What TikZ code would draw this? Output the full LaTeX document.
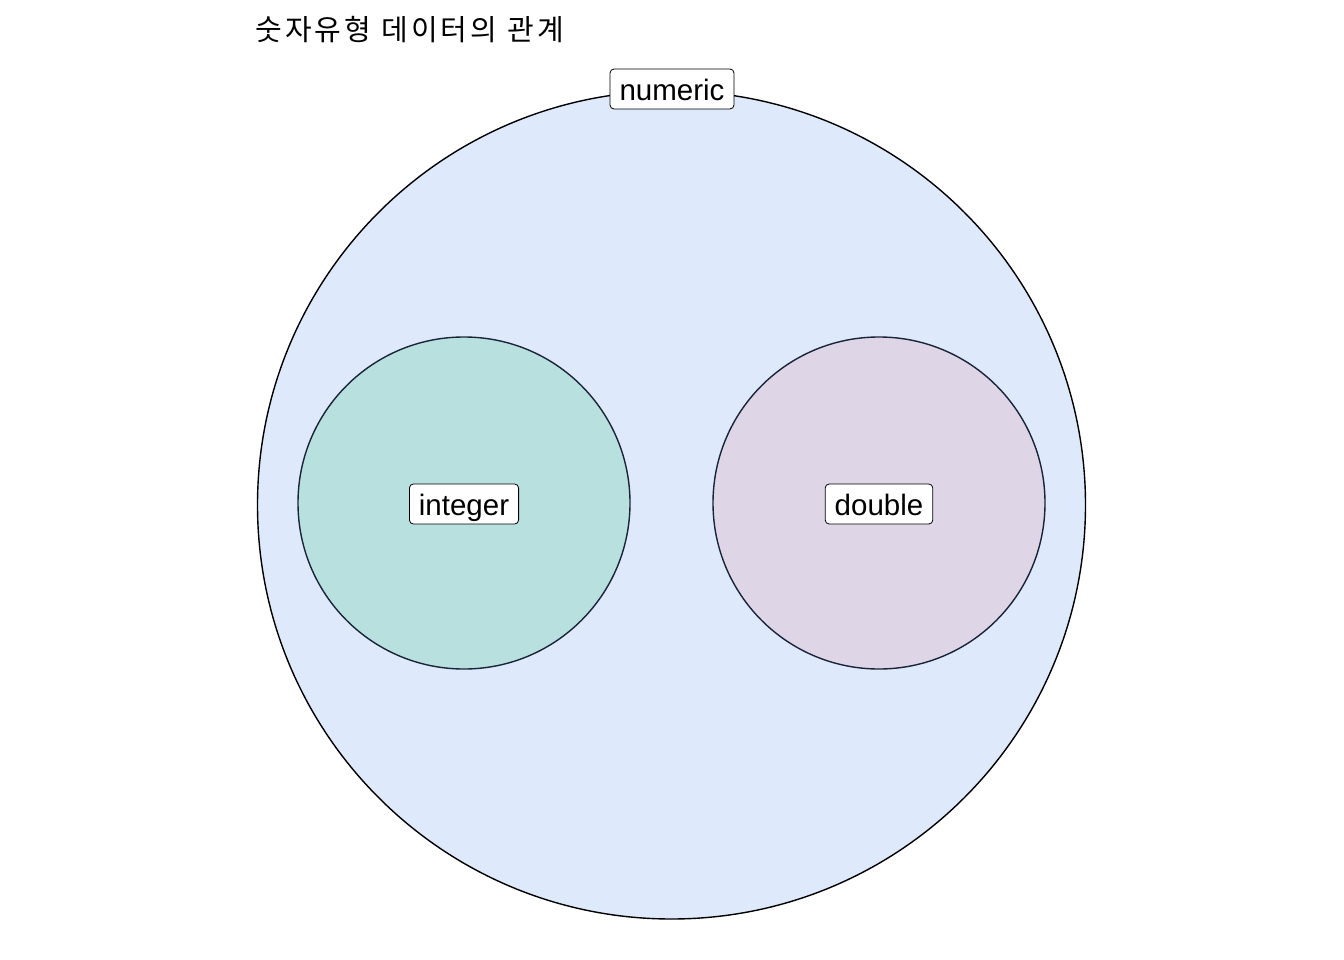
\documentclass[tikz,border=0pt]{standalone}
\usepackage{fontspec}
\setmainfont{Liberation Sans}
\newfontfamily\kofont[LetterSpace=11]{Noto Sans CJK KR}
\definecolor{outerfill}{HTML}{DEEAFC}
\definecolor{intfill}{HTML}{B8E0DF}
\definecolor{dblfill}{HTML}{DED5E7}
\definecolor{innerline}{HTML}{1A2438}
\begin{document}
\begin{tikzpicture}[x=1pt,y=-1pt,
  lbl/.style={draw=black, fill=white, rounded corners=4pt, line width=0.8pt,
    font=\fontsize{29.5}{31}\selectfont, inner xsep=9.5pt, inner ysep=0pt,
    minimum height=40pt, text height=25pt, text depth=1.5pt}]
\useasboundingbox (0,0) rectangle (1344,960);
\fill[white] (0,0) rectangle (1344,960);
\draw[fill=outerfill, line width=1.4pt] (671.5,505) circle[radius=414];
\draw[fill=intfill, draw=innerline, line width=1.4pt] (464,503) circle[radius=166];
\draw[fill=dblfill, draw=innerline, line width=1.4pt] (879,503) circle[radius=166];
\node[lbl] (num) at (672,89) {numeric};
\node[lbl] (int) at (464,504) {integer};
\node[lbl] (dbl) at (879,504) {double};
\node[anchor=base west, inner sep=0pt, font=\kofont\fontsize{29}{32}\selectfont] (title) at (255,41) {숫자유형 데이터의 관계};
\end{tikzpicture}
\end{document}
